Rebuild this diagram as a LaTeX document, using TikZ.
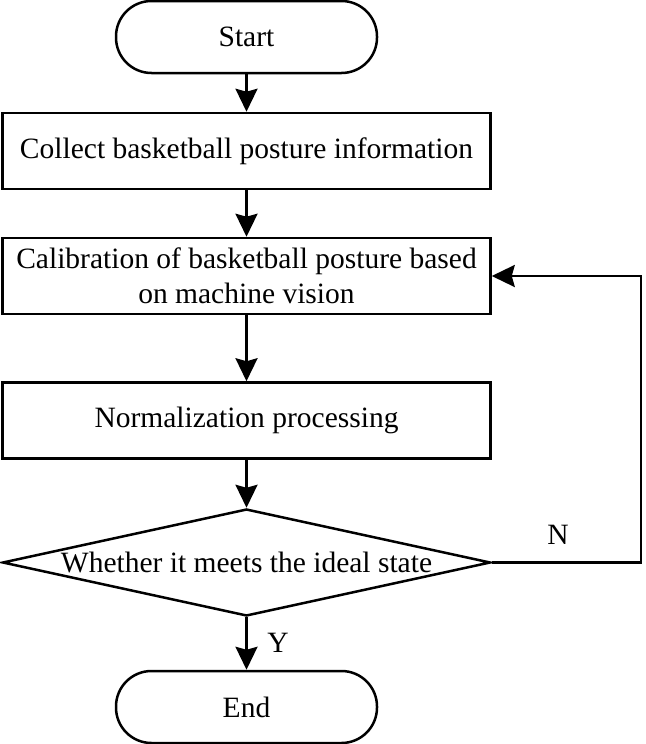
\documentclass[tikz,border=0pt]{standalone}
\usepackage{fontspec}
\setmainfont{Liberation Serif}
\usetikzlibrary{arrows.meta,shapes.geometric}
\begin{document}
\begin{tikzpicture}[x=1pt,y=-1pt,
  txt/.style={font=\fontsize{29.5}{35}\selectfont},
  box/.style={draw, line width=2.5pt, rectangle, minimum width=488pt, inner sep=0pt, align=center, txt},
  term/.style={draw, line width=2.5pt, rectangle, rounded corners=35.5pt, minimum width=261pt, minimum height=72pt, inner sep=0pt, txt},
  dec/.style={draw, line width=2.5pt, diamond, minimum width=488pt, minimum height=107pt, inner sep=0pt},
  arr/.style={line width=2.5pt, -{Stealth[length=23pt,width=22pt,inset=3pt]}}]
\useasboundingbox (0,0) rectangle (645,744);
\node[term] (start) at (246.5,37) {Start};
\node[box, minimum height=76pt] (b1) at (246.5,151) {Collect basketball posture information};
\node[box, minimum height=76pt] (b2) at (246.5,276) {Calibration of basketball posture based\\on machine vision};
\node[box, minimum height=76pt] (b3) at (246.5,420.5) {Normalization processing};
\node[dec] (d) at (246.5,562.5) {};
\node[txt] (dt) at (d.center) {Whether it meets the ideal state};
\node[term] (end) at (246.5,707) {End};
\coordinate (fb) at (641,562.5);
\node[txt] (n) at (558,535) {N};
\node[txt] (y) at (278,643) {Y};
\draw[arr] (start) -- (b1);
\draw[arr] (b1) -- (b2);
\draw[arr] (b2) -- (b3);
\draw[arr] (b3) -- (d);
\draw[arr] (d) -- (end);
\draw[arr] (d.east) -- (fb) |- (b2.east);
\end{tikzpicture}
\end{document}
